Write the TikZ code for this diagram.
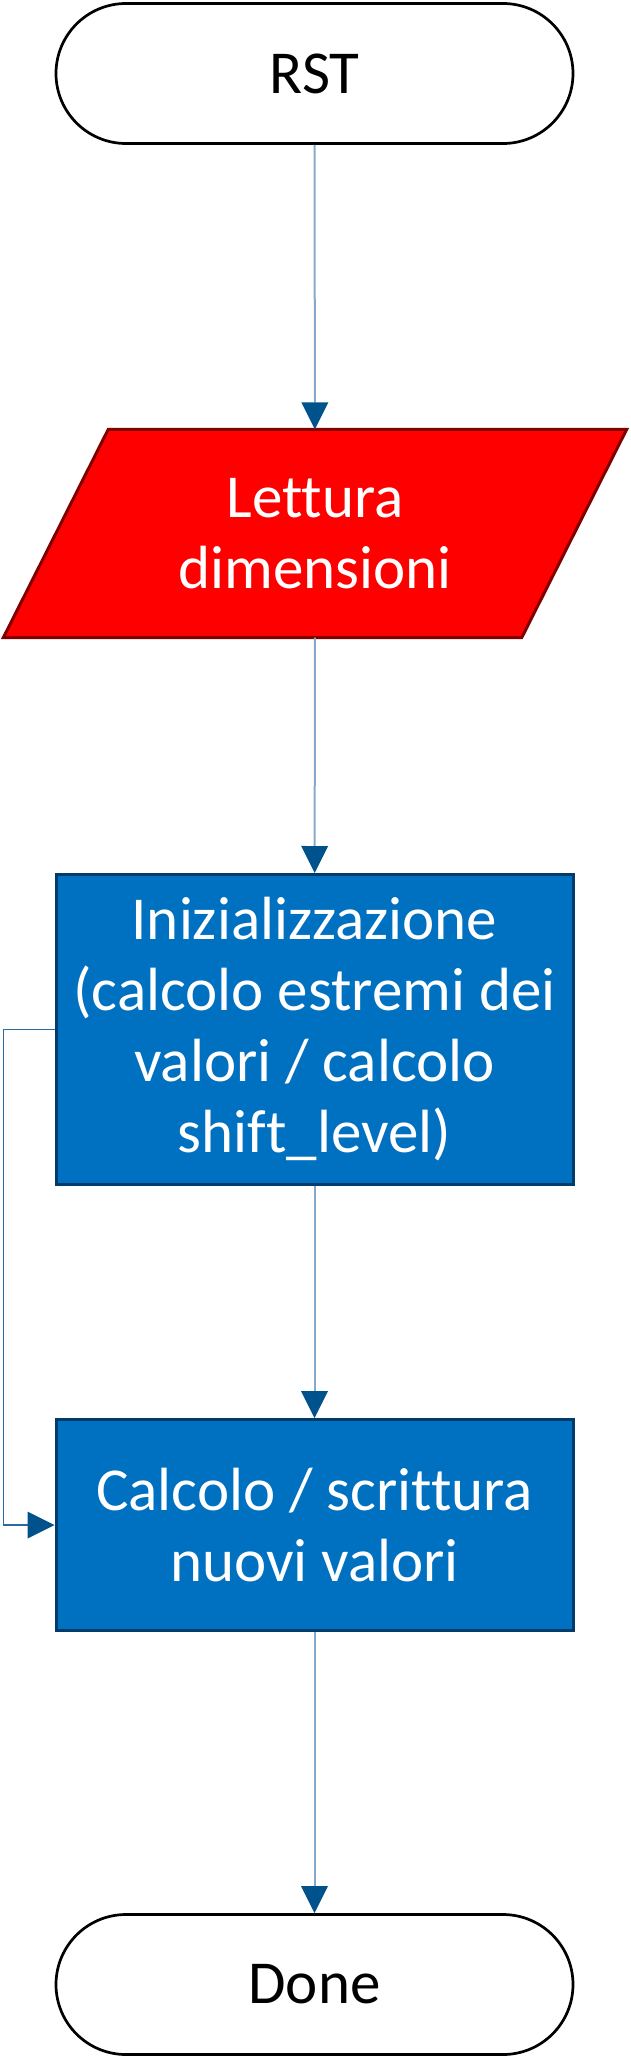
\documentclass[tikz,border=0pt]{standalone}
\usepackage{fontspec}
\setmainfont{Carlito}[Ligatures=NoCommon]
\usetikzlibrary{arrows.meta,backgrounds}
\definecolor{boxblue}{HTML}{0070C0}
\definecolor{boxborder}{HTML}{003B6A}
\definecolor{redfill}{HTML}{FF0000}
\definecolor{redborder}{HTML}{800000}
\definecolor{linecol}{HTML}{84AACB}
\definecolor{tipcol}{HTML}{00528C}
\definecolor{sidecol}{HTML}{2C6AA0}
\begin{document}
\begin{tikzpicture}[x=1pt,y=1pt,
  bigfont/.style={font=\fontsize{61}{71}\selectfont},
  terminal/.style={draw=black, line width=2.7pt, fill=white, rounded corners=70pt,
    minimum width=517pt, minimum height=140pt, inner sep=0pt, text=black, bigfont},
  procbox/.style={draw=boxborder, line width=3pt, fill=boxblue, minimum width=517pt,
    inner sep=0pt, text=white, align=center, bigfont},
  iobox/.style={minimum width=623pt, minimum height=208pt, inner sep=0pt,
    text=white, align=center, bigfont},
  flow/.style={draw=linecol, line width=2pt,
    -{Triangle[width=27pt,length=27pt,line width=0pt,color=tipcol]}},
  sideflow/.style={draw=sidecol, line width=1.2pt,
    -{Triangle[width=27pt,length=27pt,line width=0pt,color=tipcol]}}
]
\useasboundingbox (0,0) rectangle (631,-2060);
\node[terminal] (rst) at (314.5,-73.5) {RST};
\node[iobox] (read) at (315,-533.5) {Lettura\\dimensioni};
\begin{scope}[on background layer]
  \draw[fill=redfill, draw=redborder, line width=3pt]
    (read.south west) -- ([xshift=105pt]read.north west) -- (read.north east)
    -- ([xshift=-105pt]read.south east) -- cycle;
\end{scope}
\node[procbox, minimum height=310pt] (init) at (314.5,-1029.5)
  {Inizializzazione\\(calcolo estremi dei\\valori / calcolo\\shift\_level)};
\node[procbox, minimum height=211pt] (calc) at (314.5,-1525)
  {Calcolo / scrittura\\nuovi valori};
\node[terminal] (done) at (314.5,-1984.5) {Done};
\draw[flow] (rst) -- (read);
\draw[flow] (read) -- (init);
\draw[flow] (init) -- (calc);
\draw[flow] (calc) -- (done);
\draw[sideflow] (init.west) -- ++(-51,0) |- (calc.west);
\end{tikzpicture}
\end{document}
